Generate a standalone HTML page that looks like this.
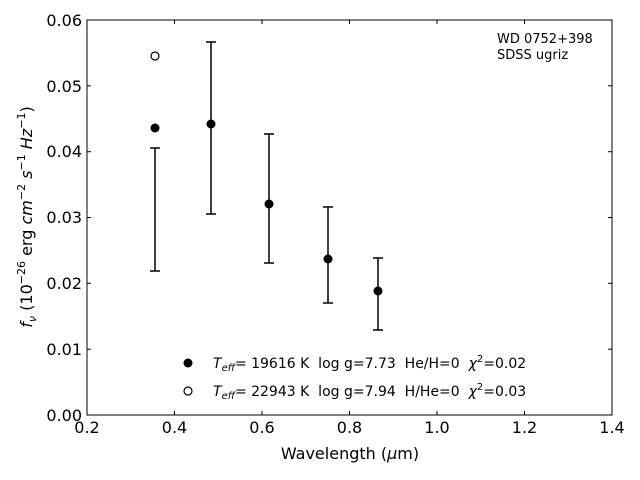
<!DOCTYPE html>
<html><head><meta charset="utf-8"><style>body{margin:0;background:#fff}svg{display:block;font-family:"DejaVu Sans","Liberation Sans",sans-serif}.pre{white-space:pre}</style></head><body>
<svg width="640" height="480" viewBox="0 0 640 480" xmlns="http://www.w3.org/2000/svg">
<rect x="87" y="20" width="525" height="395" fill="none" stroke="#000" stroke-width="1"/>
<g stroke="#000" stroke-width="1">
<line x1="87" y1="415" x2="87" y2="411"/><line x1="174.5" y1="415" x2="174.5" y2="411"/><line x1="262" y1="415" x2="262" y2="411"/><line x1="349.5" y1="415" x2="349.5" y2="411"/><line x1="437" y1="415" x2="437" y2="411"/><line x1="524.5" y1="415" x2="524.5" y2="411"/><line x1="612" y1="415" x2="612" y2="411"/>
<line x1="87" y1="20" x2="87" y2="24"/><line x1="174.5" y1="20" x2="174.5" y2="24"/><line x1="262" y1="20" x2="262" y2="24"/><line x1="349.5" y1="20" x2="349.5" y2="24"/><line x1="437" y1="20" x2="437" y2="24"/><line x1="524.5" y1="20" x2="524.5" y2="24"/>
<line x1="87" y1="349.2" x2="91" y2="349.2"/><line x1="87" y1="283.3" x2="91" y2="283.3"/><line x1="87" y1="217.5" x2="91" y2="217.5"/><line x1="87" y1="151.7" x2="91" y2="151.7"/><line x1="87" y1="85.8" x2="91" y2="85.8"/>
<line x1="612" y1="349.2" x2="608" y2="349.2"/><line x1="612" y1="283.3" x2="608" y2="283.3"/><line x1="612" y1="217.5" x2="608" y2="217.5"/><line x1="612" y1="151.7" x2="608" y2="151.7"/><line x1="612" y1="85.8" x2="608" y2="85.8"/>
</g>
<g font-size="16" text-anchor="middle">
<text x="87" y="433">0.2</text><text x="174.5" y="433">0.4</text><text x="262" y="433">0.6</text><text x="349.5" y="433">0.8</text><text x="437" y="433">1.0</text><text x="524.5" y="433">1.2</text><text x="612" y="433">1.4</text>
</g>
<g font-size="16" text-anchor="end">
<text x="82" y="421">0.00</text><text x="82" y="355">0.01</text><text x="82" y="289">0.02</text><text x="82" y="223">0.03</text><text x="82" y="157">0.04</text><text x="82" y="92">0.05</text><text x="82" y="26">0.06</text>
</g>
<text x="350" y="459" font-size="16" text-anchor="middle">Wavelength (<tspan font-style="italic">μ</tspan>m)</text>
<text transform="translate(32,217) rotate(-90)" font-size="16" text-anchor="middle"><tspan font-style="italic">f<tspan font-size="11" dy="4">ν</tspan></tspan><tspan dy="-4"> (10</tspan><tspan font-size="11" dy="-7">−26</tspan><tspan dy="7"> erg </tspan><tspan font-style="italic">cm</tspan><tspan font-size="11" dy="-7">−2</tspan><tspan dy="7" font-style="italic"> s</tspan><tspan font-size="11" dy="-7">−1</tspan><tspan dy="7" font-style="italic"> Hz</tspan><tspan font-size="11" dy="-7">−1</tspan><tspan dy="7">)</tspan></text>
<text x="497" y="43" font-size="13">WD 0752+398</text>
<text x="497" y="59" font-size="13">SDSS ugriz</text>
<g stroke="#000" stroke-width="1.5">
<line x1="155" y1="148" x2="155" y2="271"/><line x1="150" y1="148" x2="160" y2="148"/><line x1="150" y1="271" x2="160" y2="271"/>
<line x1="211" y1="42" x2="211" y2="214"/><line x1="206" y1="42" x2="216" y2="42"/><line x1="206" y1="214" x2="216" y2="214"/>
<line x1="269" y1="134" x2="269" y2="263"/><line x1="264" y1="134" x2="274" y2="134"/><line x1="264" y1="263" x2="274" y2="263"/>
<line x1="328" y1="207" x2="328" y2="303"/><line x1="323" y1="207" x2="333" y2="207"/><line x1="323" y1="303" x2="333" y2="303"/>
<line x1="378" y1="258" x2="378" y2="330"/><line x1="373" y1="258" x2="383" y2="258"/><line x1="373" y1="330" x2="383" y2="330"/>
</g>
<g fill="#000">
<circle cx="155" cy="128" r="4.5"/><circle cx="211" cy="124" r="4.5"/><circle cx="269" cy="204" r="4.5"/><circle cx="328" cy="259" r="4.5"/><circle cx="378" cy="291" r="4.5"/>
<circle cx="188" cy="363" r="4.5"/>
</g>
<circle cx="155" cy="56" r="4" fill="#fff" stroke="#000" stroke-width="1.2"/>
<circle cx="188" cy="391" r="4" fill="#fff" stroke="#000" stroke-width="1.2"/>
<g font-size="14" class="pre">
<text x="213" y="368" class="pre"><tspan font-style="italic">T<tspan font-size="10" dy="3">eff</tspan></tspan><tspan dy="-3" class="pre">= 19616 K  log g=7.73  He/H=0  </tspan><tspan font-style="italic">χ</tspan><tspan font-size="10" dy="-6">2</tspan><tspan dy="6">=0.02</tspan></text>
<text x="213" y="396" class="pre"><tspan font-style="italic">T<tspan font-size="10" dy="3">eff</tspan></tspan><tspan dy="-3" class="pre">= 22943 K  log g=7.94  H/He=0  </tspan><tspan font-style="italic">χ</tspan><tspan font-size="10" dy="-6">2</tspan><tspan dy="6">=0.03</tspan></text>
</g>
</svg>
</body></html>
